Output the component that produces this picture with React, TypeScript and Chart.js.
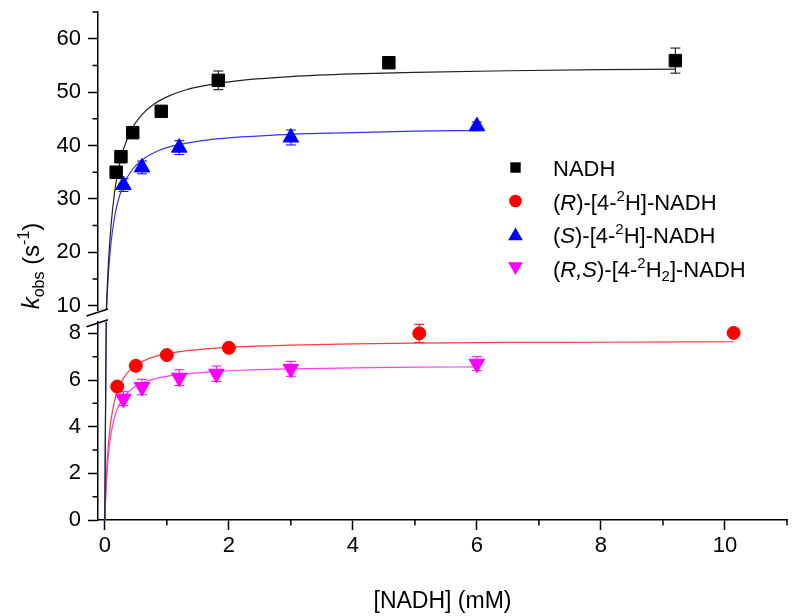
import React, { useEffect, useRef } from 'react';
import { Chart, registerables } from 'chart.js';

Chart.register(...registerables);

const FAMILY = '"Liberation Sans", Arial, Helvetica, sans-serif';

// ---------------- data ----------------
const NADH_X = [0.183, 0.26, 0.45, 0.91, 1.83, 4.58, 9.2];
const NADH_Y = [35.0, 37.9, 42.4, 46.4, 52.2, 55.5, 55.9];
const NADH_ERR = [0.6, 0.6, 0.6, 0.6, 1.75, 0.7, 2.35];

const R_X = [0.2, 0.5, 1.0, 2.0, 5.07, 10.14];
const R_Y = [5.72, 6.61, 7.07, 7.38, 8.0, 8.02];
const R_ERR = [0.1, 0.1, 0.1, 0.12, 0.39, 0.1];

const S_X = [0.3, 0.6, 1.2, 3.0, 6.0];
const S_Y = [32.6, 35.9, 39.6, 41.5, 43.6];
const S_ERR = [1.2, 1.2, 1.3, 1.4, 0.8];

const RS_X = [0.3, 0.6, 1.2, 1.8, 3.0, 6.0];
const RS_Y = [5.2, 5.7, 6.1, 6.27, 6.48, 6.7];
const RS_ERR = [0.3, 0.33, 0.34, 0.33, 0.32, 0.3];

// fitted curves
const NADH_FIT_X = [0, 0.01, 0.02, 0.04, 0.07, 0.1, 0.15, 0.2, 0.3, 0.45, 0.6, 0.8, 1.0, 1.3, 1.7, 2.2, 3, 4, 5, 6.5, 8, 9.2];
const NADH_FIT_Y = [0, 4.2, 7.9, 13.8, 20.3, 25.0, 30.6, 34.4, 39.3, 43.4, 45.8, 47.8, 49.1, 50.4, 51.4, 52.2, 52.9, 53.4, 53.7, 54.0, 54.2, 54.3];

const S_FIT_X = [0, 0.01, 0.02, 0.04, 0.07, 0.1, 0.15, 0.2, 0.3, 0.45, 0.6, 0.8, 1.0, 1.3, 1.7, 2.2, 3, 4, 5, 6];
const S_FIT_Y = [0, 4.0, 7.3, 12.4, 17.9, 21.8, 26.1, 29.0, 32.6, 35.6, 37.3, 38.7, 39.6, 40.4, 41.1, 41.6, 42.1, 42.4, 42.7, 42.8];

const R_FIT_X = [0, 0.01, 0.02, 0.04, 0.07, 0.1, 0.15, 0.2, 0.3, 0.45, 0.6, 0.8, 1.0, 1.3, 1.7, 2.2, 3, 4, 5, 6.5, 8, 10.14];
const R_FIT_Y = [0, 0.86, 1.54, 2.57, 3.59, 4.28, 5.02, 5.5, 6.08, 6.54, 6.79, 7.0, 7.13, 7.25, 7.35, 7.43, 7.5, 7.55, 7.58, 7.61, 7.62, 7.64];

const RS_FIT_X = [0, 0.01, 0.02, 0.04, 0.07, 0.1, 0.15, 0.2, 0.3, 0.45, 0.6, 0.8, 1.0, 1.3, 1.7, 2.2, 3, 4, 5, 6];
const RS_FIT_Y = [0, 0.74, 1.33, 2.22, 3.1, 3.69, 4.34, 4.75, 5.25, 5.65, 5.87, 6.05, 6.16, 6.26, 6.35, 6.42, 6.48, 6.52, 6.55, 6.56];

// axes
const X_MIN = -0.11;
const X_MAX = 11;
const X_MAJOR = [0, 2, 4, 6, 8, 10];
const X_MINOR = [1, 3, 5, 7, 9, 11];
const TOP_MIN = 9.2;
const TOP_MAX = 65;
const TOP_MAJOR = [10, 20, 30, 40, 50, 60];
const TOP_MINOR = [15, 25, 35, 45, 55, 65];
const BOT_MIN = 0;
const BOT_MAX = 8.5;
const BOT_MAJOR = [0, 2, 4, 6, 8];
const BOT_MINOR = [1, 3, 5, 7];

const X_TITLE = '[NADH] (mM)';

type Seg = { t: string; it?: boolean; sup?: boolean; sub?: boolean };

const Y_TITLE: Seg[] = [{ t: 'k', it: true }, { t: 'obs', sub: true }, { t: ' (s' }, { t: '-1', sup: true }, { t: ')' }];

const LEGEND: { segs: Seg[]; marker: string; color: string }[] = [
  { segs: [{ t: 'NADH' }], marker: 'rect', color: '#000000' },
  { segs: [{ t: '(' }, { t: 'R', it: true }, { t: ')-[4-' }, { t: '2', sup: true }, { t: 'H]-NADH' }], marker: 'circle', color: '#ff0000' },
  { segs: [{ t: '(' }, { t: 'S', it: true }, { t: ')-[4-' }, { t: '2', sup: true }, { t: 'H]-NADH' }], marker: 'up', color: '#0000ff' },
  { segs: [{ t: '(' }, { t: 'R,S', it: true }, { t: ')-[4-' }, { t: '2', sup: true }, { t: 'H' }, { t: '2', sub: true }, { t: ']-NADH' }], marker: 'down', color: '#ff00ff' },
];

const ERR_SERIES = [
  { xs: NADH_X, ys: NADH_Y, es: NADH_ERR, axis: 'yTop', color: '#000000' },
  { xs: S_X, ys: S_Y, es: S_ERR, axis: 'yTop', color: '#0000ff' },
  { xs: R_X, ys: R_Y, es: R_ERR, axis: 'yBot', color: '#ff0000' },
  { xs: RS_X, ys: RS_Y, es: RS_ERR, axis: 'yBot', color: '#ff00ff' },
];

function drawRich(ctx: CanvasRenderingContext2D, segs: Seg[], x: number, y: number, size: number, align: 'left' | 'center') {
  const fontFor = (s: Seg) => `${s.it ? 'italic ' : ''}${s.sup || s.sub ? Math.round(size * 0.66) : size}px ${FAMILY}`;
  let total = 0;
  for (const s of segs) {
    ctx.font = fontFor(s);
    total += ctx.measureText(s.t).width;
  }
  let cx = align === 'center' ? x - total / 2 : x;
  ctx.textAlign = 'left';
  ctx.textBaseline = 'alphabetic';
  for (const s of segs) {
    ctx.font = fontFor(s);
    const dy = s.sup ? -size * 0.4 : s.sub ? size * 0.22 : 0;
    ctx.fillText(s.t, cx, y + dy);
    cx += ctx.measureText(s.t).width;
  }
}

function drawMarker(ctx: CanvasRenderingContext2D, style: string, x: number, y: number, r: number, color: string) {
  ctx.fillStyle = color;
  ctx.beginPath();
  if (style === 'rect') ctx.rect(x - r, y - r, 2 * r, 2 * r);
  else if (style === 'circle') ctx.arc(x, y, r, 0, Math.PI * 2);
  else if (style === 'up') {
    ctx.moveTo(x, y - r);
    ctx.lineTo(x + r * 0.866, y + r * 0.5);
    ctx.lineTo(x - r * 0.866, y + r * 0.5);
    ctx.closePath();
  } else {
    ctx.moveTo(x, y + r);
    ctx.lineTo(x + r * 0.866, y - r * 0.5);
    ctx.lineTo(x - r * 0.866, y - r * 0.5);
    ctx.closePath();
  }
  ctx.fill();
}

const decorPlugin = {
  id: 'decor',
  beforeDatasetsDraw(chart: any) {
    const ctx: CanvasRenderingContext2D = chart.ctx;
    const xs = chart.scales.x;
    ctx.save();
    ctx.lineWidth = 1;
    for (const s of ERR_SERIES) {
      const ys = chart.scales[s.axis];
      ctx.strokeStyle = s.color;
      s.xs.forEach((x, i) => {
        const px = xs.getPixelForValue(x);
        const p1 = ys.getPixelForValue(s.ys[i] - s.es[i]);
        const p2 = ys.getPixelForValue(s.ys[i] + s.es[i]);
        ctx.beginPath();
        ctx.moveTo(px, p1);
        ctx.lineTo(px, p2);
        ctx.moveTo(px - 5, p1);
        ctx.lineTo(px + 5, p1);
        ctx.moveTo(px - 5, p2);
        ctx.lineTo(px + 5, p2);
        ctx.stroke();
      });
    }
    ctx.restore();
  },
  afterDraw(chart: any) {
    const ctx: CanvasRenderingContext2D = chart.ctx;
    const area = chart.chartArea;
    const xs = chart.scales.x;
    const yTop = chart.scales.yTop;
    const yBot = chart.scales.yBot;
    const L = area.left;
    const B = area.bottom;
    ctx.save();
    // minor ticks
    ctx.strokeStyle = '#000';
    ctx.lineWidth = 1.5;
    ctx.beginPath();
    for (const v of TOP_MINOR) {
      const p = yTop.getPixelForValue(v);
      ctx.moveTo(L - 5.5, p);
      ctx.lineTo(L, p);
    }
    for (const v of BOT_MINOR) {
      const p = yBot.getPixelForValue(v);
      ctx.moveTo(L - 5.5, p);
      ctx.lineTo(L, p);
    }
    for (const v of X_MINOR) {
      const p = xs.getPixelForValue(v);
      ctx.moveTo(p, B);
      ctx.lineTo(p, B + 5.5);
    }
    ctx.stroke();
    // axis break marks
    ctx.beginPath();
    const t = yTop.bottom;
    const b = yBot.top;
    ctx.moveTo(L - 11.5, t + 6);
    ctx.lineTo(L + 10, t - 1);
    ctx.moveTo(L - 11.5, b + 5);
    ctx.lineTo(L + 10, b - 2);
    ctx.stroke();

    ctx.fillStyle = '#000';
    // x title
    ctx.font = `23px ${FAMILY}`;
    ctx.textAlign = 'center';
    ctx.textBaseline = 'alphabetic';
    ctx.fillText(X_TITLE, (area.left + area.right) / 2, 608);

    // y title
    ctx.save();
    ctx.translate(38.5, 266);
    ctx.rotate(-Math.PI / 2);
    drawRich(ctx, Y_TITLE, 0, 0, 24, 'center');
    ctx.restore();

    // legend
    LEGEND.forEach((e, i) => {
      const base = 176 + i * 33.5;
      const my = base - 8.5;
      const r = e.marker === 'rect' ? 5.2 : e.marker === 'circle' ? 6.3 : 8.5;
      drawMarker(ctx, e.marker, 515.5, e.marker === 'up' ? my + 1.5 : e.marker === 'down' ? my - 1.5 : my, r, e.color);
      ctx.fillStyle = '#000';
      drawRich(ctx, e.segs, 553, base, 22, 'left');
    });
    ctx.restore();
  },
};

const toPts = (xs: number[], ys: number[]) => xs.map((x, i) => ({ x, y: ys[i] }));

const curve = (xs: number[], ys: number[], color: string, axis: string) => ({
  data: toPts(xs, ys),
  yAxisID: axis,
  showLine: true,
  borderColor: color,
  borderWidth: 1.2,
  pointRadius: 0,
  pointHoverRadius: 0,
  fill: false,
  cubicInterpolationMode: 'monotone',
  order: 2,
});

const points = (xs: number[], ys: number[], color: string, style: string, radius: number, rotation: number, axis: string) => ({
  data: toPts(xs, ys),
  yAxisID: axis,
  showLine: false,
  pointStyle: style,
  pointRadius: radius,
  pointHoverRadius: radius,
  pointRotation: rotation,
  backgroundColor: color,
  borderColor: color,
  borderWidth: 1,
  order: 1,
});

function yAxis(min: number, max: number, major: number[], weight: number, show: boolean) {
  return {
    type: 'linear',
    position: 'left',
    stack: 'ys',
    stackWeight: weight,
    min,
    max,
    border: { display: show, color: '#000', width: 1.5 },
    grid: { display: show, drawOnChartArea: false, drawTicks: show, tickLength: 10, tickColor: '#000', tickWidth: 1.5 },
    ticks: { display: show, color: '#000', font: { family: FAMILY, size: 22 }, padding: 7, autoSkip: false },
    afterBuildTicks: (s: any) => {
      s.ticks = major.map((v) => ({ value: v }));
    },
    afterFit: (s: any) => {
      s.width = 98;
      s.paddingTop = 0;
      s.paddingBottom = 0;
    },
  };
}

export default function App() {
  const ref = useRef<HTMLCanvasElement>(null);
  useEffect(() => {
    const chart = new Chart(ref.current as HTMLCanvasElement, {
      type: 'scatter',
      data: {
        datasets: [
          curve(NADH_FIT_X, NADH_FIT_Y, '#222222', 'yTop'),
          curve(NADH_FIT_X, NADH_FIT_Y, '#222222', 'yBot'),
          curve(S_FIT_X, S_FIT_Y, '#3333ff', 'yTop'),
          curve(S_FIT_X, S_FIT_Y, '#3333ff', 'yBot'),
          curve(R_FIT_X, R_FIT_Y, '#ff3b3b', 'yBot'),
          curve(RS_FIT_X, RS_FIT_Y, '#ff3dff', 'yBot'),
          points(NADH_X, NADH_Y, '#000000', 'rect', 8.8, 0, 'yTop'),
          points(R_X, R_Y, '#ff0000', 'circle', 6.5, 0, 'yBot'),
          points(S_X, S_Y, '#0000ff', 'triangle', 9, 0, 'yTop'),
          points(RS_X, RS_Y, '#ff00ff', 'triangle', 9, 180, 'yBot'),
        ] as any,
      },
      options: {
        responsive: false,
        maintainAspectRatio: false,
        devicePixelRatio: 1,
        animation: false,
        layout: { padding: { left: 0, right: 13, top: 12, bottom: 0 } },
        plugins: { legend: { display: false }, tooltip: { enabled: false } },
        events: [],
        scales: {
          x: {
            type: 'linear',
            position: 'bottom',
            min: X_MIN,
            max: X_MAX,
            border: { display: true, color: '#000', width: 1.5 },
            grid: { display: true, drawOnChartArea: false, drawTicks: true, tickLength: 10, tickColor: '#000', tickWidth: 1.5 },
            ticks: { color: '#000', font: { family: FAMILY, size: 22 }, padding: 3, autoSkip: false, maxRotation: 0 },
            afterBuildTicks: (s: any) => {
              s.ticks = X_MAJOR.map((v) => ({ value: v }));
            },
            afterFit: (s: any) => {
              s.height = 96;
              s.paddingLeft = 0;
              s.paddingRight = 0;
            },
          },
          yBot: yAxis(BOT_MIN, BOT_MAX, BOT_MAJOR, 198.3, true),
          yGap: yAxis(0, 1, [0], 11.7, false),
          yTop: yAxis(TOP_MIN, TOP_MAX, TOP_MAJOR, 298, true),
        } as any,
      },
      plugins: [decorPlugin as any],
    });
    return () => chart.destroy();
  }, []);
  return (
    <div style={{ position: 'fixed', left: 0, top: 0, width: 800, height: 616, background: '#fff' }}>
      <canvas ref={ref} width={800} height={616} style={{ width: 800, height: 616, display: 'block' }} />
    </div>
  );
}
